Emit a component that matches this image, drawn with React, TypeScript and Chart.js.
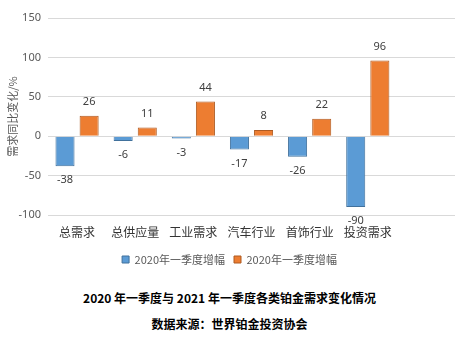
import React, { useEffect, useRef } from "react";
import { Chart, registerables } from "chart.js";

Chart.register(...registerables);

const categories = ["总需求", "总供应量", "工业需求", "汽车行业", "首饰行业", "投资需求", ""];
const series2020 = [-38, -6, -3, -17, -26, -90, null];
const series2021 = [26, 11, 44, 8, 22, 96, null];
const seriesNames = ["2020年一季度增幅", "2020年一季度增幅"];
const yTicks = [-100, -50, 0, 50, 100, 150];
const yTitle = "需求同比变化/%";
const caption1 = "2020 年一季度与 2021 年一季度各类铂金需求变化情况";
const caption2 = "数据来源：世界铂金投资协会";

const valueLabels = {
  id: "valueLabels",
  afterDatasetsDraw(chart: any) {
    const ctx = chart.ctx;
    ctx.save();
    ctx.font = "11px 'Noto Sans', 'DejaVu Sans', sans-serif";
    ctx.fillStyle = "#404040";
    ctx.textAlign = "center";
    ctx.textBaseline = "middle";
    chart.data.datasets.forEach((ds: any, di: number) => {
      const meta = chart.getDatasetMeta(di);
      meta.data.forEach((el: any, i: number) => {
        const v = ds.data[i];
        if (v === null || v === undefined) return;
        const y = v >= 0 ? el.y - 14 : el.y + 14;
        ctx.fillText(String(v), el.x, y);
      });
    });
    ctx.restore();
  },
};

export default function App() {
  const ref = useRef<HTMLCanvasElement>(null);
  useEffect(() => {
    document.body.style.margin = "0";
    const chart = new Chart(ref.current!, {
      type: "bar",
      data: {
        labels: categories,
        datasets: [
          {
            label: seriesNames[0],
            data: series2020,
            backgroundColor: "#5B9BD5",
            borderColor: "#41719C",
            borderWidth: 1,
            categoryPercentage: 0.83,
            barPercentage: 0.79,
          },
          {
            label: seriesNames[1],
            data: series2021,
            backgroundColor: "#ED7D31",
            borderColor: "#AE5A21",
            borderWidth: 1,
            categoryPercentage: 0.83,
            barPercentage: 0.79,
          },
        ],
      },
      options: {
        animation: false,
        responsive: false,
        layout: { padding: { left: 4, right: 4, top: 18, bottom: 0 } },
        plugins: {
          legend: {
            position: "bottom",
            labels: {
              boxWidth: 7,
              boxHeight: 7,
              padding: 9,
              color: "#595959",
              font: { size: 11, family: "'Noto Sans CJK SC', sans-serif" },
            },
          },
          tooltip: { enabled: false },
        },
        scales: {
          x: {
            grid: { display: false, drawTicks: false },
            border: { display: false },
            afterFit: (s: any) => {
              s.height = 30;
            },
            ticks: {
              color: "#333333",
              font: { size: 12, family: "'Noto Sans CJK SC', sans-serif" },
              maxRotation: 0,
              autoSkip: false,
              padding: 10,
            },
          },
          y: {
            min: yTicks[0],
            max: yTicks[yTicks.length - 1],
            afterBuildTicks: (s: any) => {
              s.ticks = yTicks.map((v) => ({ value: v }));
            },
            afterFit: (s: any) => {
              s.width = 44;
            },
            grid: { color: "#d9d9d9", drawTicks: false },
            border: { display: false },
            ticks: {
              color: "#595959",
              font: { size: 11, family: "'Noto Sans', sans-serif" },
              padding: 7,
            },
            title: {
              display: true,
              text: yTitle,
              color: "#595959",
              font: { size: 11, family: "'Noto Sans CJK SC', sans-serif" },
              padding: 2,
            },
          },
        },
      },
      plugins: [valueLabels],
    });
    return () => chart.destroy();
  }, []);
  return (
    <div style={{ position: "relative", width: 459, height: 340, background: "#fff" }}>
      <canvas ref={ref} width={459} height={275} style={{ position: "absolute", left: 0, top: 0 }} />
      <div
        style={{
          position: "absolute",
          top: 289,
          left: 0,
          width: 459,
          textAlign: "center",
          fontFamily: "'Noto Sans CJK SC', sans-serif",
          fontWeight: "bold",
          fontSize: 12,
          lineHeight: "18px",
          color: "#000",
        }}
      >
        {caption1}
      </div>
      <div
        style={{
          position: "absolute",
          top: 315,
          left: 0,
          width: 459,
          textAlign: "center",
          fontFamily: "'Noto Sans CJK SC', sans-serif",
          fontWeight: "bold",
          fontSize: 12,
          lineHeight: "18px",
          color: "#000",
        }}
      >
        {caption2}
      </div>
    </div>
  );
}
